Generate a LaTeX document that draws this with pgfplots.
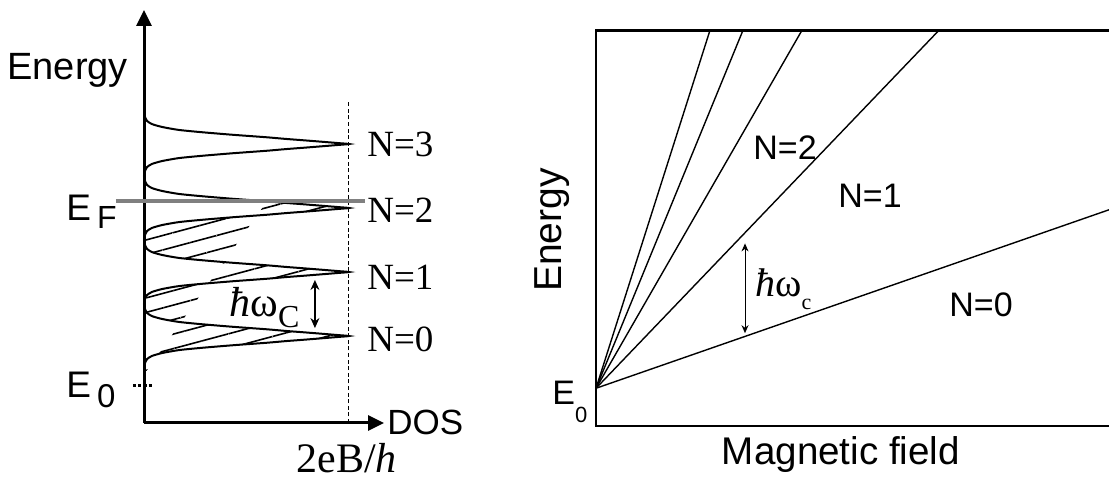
\documentclass[border=0pt]{standalone}
\usepackage{pgfplots}
\pgfplotsset{compat=1.18}
\usepgfplotslibrary{fillbetween}
\usetikzlibrary{patterns.meta,arrows.meta}
\usepackage{fontspec}
\setmainfont{Liberation Serif}
\newfontfamily\arial{Liberation Sans}
\definecolor{efgray}{RGB}{128,128,128}
\pgfplotstableread{
x y
0 -0.47
0.004 -0.43
0.015 -0.36
0.04 -0.31
0.09 -0.265
0.17 -0.22
0.28 -0.185
0.43 -0.145
0.6 -0.105
0.69 -0.08
0.78 -0.058
0.87 -0.035
0.95 -0.014
1 0
0.95 0.014
0.87 0.035
0.78 0.058
0.69 0.08
0.6 0.105
0.43 0.145
0.28 0.185
0.17 0.22
0.09 0.265
0.04 0.31
0.015 0.36
0.004 0.43
0 0.5
0.004 0.57
0.015 0.64
0.04 0.69
0.09 0.735
0.17 0.78
0.28 0.815
0.43 0.855
0.6 0.895
0.69 0.92
0.78 0.942
0.87 0.965
0.95 0.986
1 1
0.95 1.014
0.87 1.035
0.78 1.058
0.69 1.08
0.6 1.105
0.43 1.145
0.28 1.185
0.17 1.22
0.09 1.265
0.04 1.31
0.015 1.36
0.004 1.43
0 1.5
0.004 1.57
0.015 1.64
0.04 1.69
0.09 1.735
0.17 1.78
0.28 1.815
0.43 1.855
0.6 1.895
0.69 1.92
0.78 1.942
0.87 1.965
0.95 1.986
1 2
0.95 2.014
0.87 2.035
0.78 2.058
0.69 2.08
0.6 2.105
0.43 2.145
0.28 2.185
0.17 2.22
0.09 2.265
0.04 2.31
0.015 2.36
0.004 2.43
0 2.5
0.004 2.57
0.015 2.64
0.04 2.69
0.09 2.735
0.17 2.78
0.28 2.815
0.43 2.855
0.6 2.895
0.69 2.92
0.78 2.942
0.87 2.965
0.95 2.986
1 3
0.95 3.014
0.87 3.035
0.78 3.058
0.69 3.08
0.6 3.105
0.43 3.145
0.28 3.185
0.17 3.22
0.09 3.265
0.04 3.31
0.015 3.36
0.004 3.43
0 3.5
}\dostable
\begin{document}
\begin{tikzpicture}[x=1pt,y=1pt]
% ---------------- left panel: density of states ----------------
\begin{axis}[at={(72pt,29.5pt)}, anchor=south west, scale only axis,
  width=120pt, height=206.5pt, xmin=0, xmax=1.171, ymin=-1.359, ymax=5.094,
  enlargelimits=false, axis lines=left, ticks=none, clip=false,
  axis line style={line width=1.5pt, -{Triangle[length=8pt,width=7.5pt]}}]
\addplot[draw=none, name path=ax, forget plot] coordinates {(0,-0.6) (0,3.6)};
\addplot[black, line width=1pt, smooth, tension=0.4, name path=dos] table[x=x,y=y] {\dostable};
\addplot[draw=none, pattern={Lines[angle=15,distance=7pt,line width=0.8pt]}]
  fill between[of=dos and ax, soft clip={domain y=-0.6:2.105}];
\addplot[black, line width=0.5pt, dash pattern=on 2pt off 1.3pt] coordinates {(1,-1.359) (1,3.67)};
\addplot[efgray, line width=2.2pt] coordinates {(-0.137,2.105) (1.078,2.105)};
\addplot[black, line width=1.5pt, dash pattern=on 1.6pt off 1pt] coordinates {(-0.054,-0.766) (0.046,-0.766)};
\addplot[black, line width=0.6pt, {Stealth[length=5pt,width=4.5pt]}-{Stealth[length=5pt,width=4.5pt]}] coordinates {(0.834,0.125) (0.834,0.875)};
\end{axis}
% ---------------- right panel: Landau fan ----------------
\begin{axis}[at={(298pt,28pt)}, anchor=south west, scale only axis,
  width=258pt, height=194pt, xmin=0, xmax=516, ymin=0, ymax=388,
  enlargelimits=false, ticks=none, clip=true,
  axis line style={line width=1.3pt}]
\addplot[black, line width=0.7pt] coordinates {(0,37) (516,213)};
\addplot[black, line width=0.7pt] coordinates {(0,37) (343,388)};
\addplot[black, line width=0.7pt] coordinates {(0,37) (206,388)};
\addplot[black, line width=0.7pt] coordinates {(0,37) (147,388)};
\addplot[black, line width=0.7pt] coordinates {(0,37) (114,388)};
\addplot[black, line width=0.5pt, {Stealth[length=4pt,width=3.5pt]}-{Stealth[length=4pt,width=3.5pt]}] coordinates {(149,91) (149,179)};
\end{axis}
% ---------------- labels ----------------
\begin{scope}[every node/.style={inner sep=0pt}]
\node[anchor=base west] at (3.5,201.3) {\arial\fontsize{19}{19}\selectfont Energy};
\node[anchor=base west] at (33,130.5) {\arial\fontsize{18.5}{18.5}\selectfont E\hspace{3pt}\raisebox{-4pt}{\fontsize{16}{16}\selectfont F}};
\node[anchor=base west] at (33,42) {\arial\fontsize{18.5}{18.5}\selectfont E\hspace{3pt}\raisebox{-5pt}{\fontsize{16.5}{16.5}\selectfont 0}};
\node[anchor=base west] at (183.5,162.5) {\fontsize{18.5}{18.5}\selectfont N=3};
\node[anchor=base west] at (183.5,129.5) {\fontsize{18.5}{18.5}\selectfont N=2};
\node[anchor=base west] at (183.5,96) {\fontsize{18.5}{18.5}\selectfont N=1};
\node[anchor=base west] at (183.5,65) {\fontsize{18.5}{18.5}\selectfont N=0};
\node[anchor=base west] at (193.5,23.5) {\arial\fontsize{17.5}{17.5}\selectfont DOS};
\node[anchor=base west] at (148,4.5) {\fontsize{21}{21}\selectfont 2eB/\textit{h}};
\node[anchor=base west] at (114.5,82.5) {\fontsize{21}{21}\selectfont\textit{ħ}ω\raisebox{-5.5pt}{\fontsize{16}{16}\selectfont C}};
\node[rotate=90] at (276,126) {\arial\fontsize{19.5}{19.5}\selectfont Energy};
\node[anchor=base] at (420.5,8.5) {\arial\fontsize{19.3}{19.3}\selectfont Magnetic field};
\node[anchor=base west] at (276,38.5) {\arial\fontsize{17}{17}\selectfont E\raisebox{-9pt}{\fontsize{11}{11}\selectfont 0}};
\node[anchor=base west] at (376.5,161) {\arial\fontsize{17}{17}\selectfont N=2};
\node[anchor=base west] at (419,137) {\arial\fontsize{17}{17}\selectfont N=1};
\node[anchor=base west] at (474.5,82.5) {\arial\fontsize{17}{17}\selectfont N=0};
\node[anchor=base west] at (377.5,92.5) {\fontsize{20}{20}\selectfont\textit{ħ}ω\raisebox{-6.5pt}{\fontsize{11}{11}\selectfont c}};
\end{scope}
\pgfresetboundingbox
\useasboundingbox (0,0) rectangle (554.5,241);
\end{tikzpicture}
\end{document}
